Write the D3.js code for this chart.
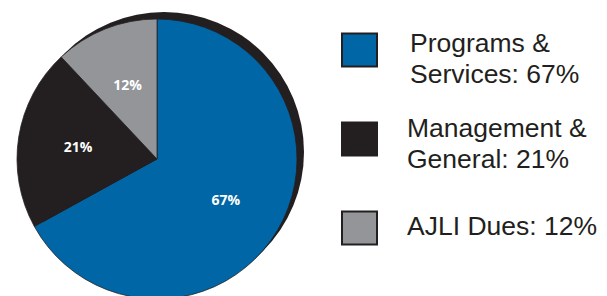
<!DOCTYPE html>
<html>
<head>
<meta charset="utf-8">
<script src="https://cdn.jsdelivr.net/npm/d3@7"></script>
<style>
  body { margin: 0; background: #fff; }
  svg { display: block; }
</style>
</head>
<body>
<div id="VisContainer"></div>
<script>
// data
categories = ["Programs & Services", "Management & General", "AJLI Dues"];
values = [67, 21, 12];
legendLines = [["Programs &", "Services: 67%"], ["Management &", "General: 21%"], ["AJLI Dues: 12%"]];
colors = ["#0066a6", "#231f20", "#939598"];

width = 607;
height = 296;
cx = 157; cy = 159; radius = 140;
shadowDx = 7; shadowDy = -7;

svg = d3.select("#VisContainer").append("svg")
  .attr("width", width)
  .attr("height", height);

pieData = d3.pie().sort(null).value(function(d){ return d; })(values);
arc = d3.arc().innerRadius(0).outerRadius(radius);
labelArc = d3.arc().innerRadius(80).outerRadius(80);

g = svg.append("g").attr("transform", "translate(" + cx + "," + cy + ")");

// dark offset disc behind the pie
g.append("circle")
  .attr("cx", shadowDx)
  .attr("cy", shadowDy)
  .attr("r", radius)
  .attr("fill", "#231f20");

g.selectAll("path.slice")
  .data(pieData)
  .enter().append("path")
  .attr("class", "slice")
  .attr("d", arc)
  .attr("fill", function(d,i){ return colors[i]; })
  .attr("stroke", "#231f20")
  .attr("stroke-width", 0.75);

g.selectAll("text.pct")
  .data(pieData)
  .enter().append("text")
  .attr("class", "pct")
  .attr("transform", function(d){ return "translate(" + labelArc.centroid(d) + ")"; })
  .attr("text-anchor", "middle")
  .attr("dy", "0.36em")
  .attr("fill", "#fff")
  .style("font-family", "'Open Sans', sans-serif")
  .style("font-weight", "bold")
  .style("font-size", "14px")
  .text(function(d){ return d.value + "%"; });

// legend
legendY = d3.scalePoint().domain(categories).range([49.5, 227.5]);

items = svg.selectAll("g.legend")
  .data(categories)
  .enter().append("g")
  .attr("class", "legend")
  .attr("transform", function(d){ return "translate(342," + legendY(d) + ")"; });

items.append("rect")
  .attr("x", 0)
  .attr("y", -16)
  .attr("width", 35)
  .attr("height", 33)
  .attr("fill", function(d,i){ return colors[i]; })
  .attr("stroke", "#231f20")
  .attr("stroke-width", 2);

items.append("text")
  .attr("y", function(d,i){ return i == 0 ? 2.5 : (i == 1 ? -1.5 : 7.5); })
  .attr("fill", "#231f20")
  .style("font-family", "'Liberation Sans', Arial, sans-serif")
  .style("font-size", "26.5px")
  .each(function(d,i){
    var t = d3.select(this);
    legendLines[i].forEach(function(line, j){
      t.append("tspan")
        .attr("x", i == 0 ? 68 : 65)
        .attr("dy", j == 0 ? 0 : 31)
        .text(line);
    });
  });
</script>
</body>
</html>
